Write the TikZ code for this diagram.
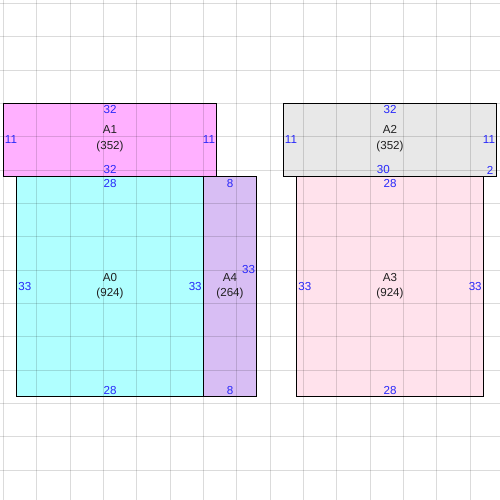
\documentclass[tikz,border=0pt]{standalone}
\usepackage{fontspec}
\setmainfont{Liberation Sans}
\definecolor{dimblue}{RGB}{40,40,250}
\definecolor{namegray}{RGB}{32,32,32}
\definecolor{pinkA}{RGB}{255,176,255}
\definecolor{cyanA}{RGB}{176,255,255}
\definecolor{lilacA}{RGB}{216,190,244}
\definecolor{grayA}{RGB}{232,232,232}
\definecolor{roseA}{RGB}{255,226,236}

\begin{document}
\begin{tikzpicture}[x=0.2cm,y=-0.2cm,
	dim/.style={text=dimblue,inner sep=1.2pt,font=\fontsize{9.9}{11}\selectfont},
	blockname/.style={text=namegray,align=center,inner sep=0pt,font=\fontsize{9.9}{13}\selectfont},
	box/.style={draw=black,line width=0.8pt}]
	\useasboundingbox (0,0) rectangle (75,75);
	\fill[white] (0,0) rectangle (75,75);
	% fills
	\fill[pinkA] (0.5,15.5) rectangle (32.5,26.5);
	\fill[cyanA] (2.5,26.5) rectangle (30.5,59.5);
	\fill[lilacA] (30.5,26.5) rectangle (38.5,59.5);
	\fill[grayA] (42.5,15.5) rectangle (74.5,26.5);
	\fill[roseA] (44.5,26.5) rectangle (72.5,59.5);
	% grid
	\foreach \k in {0,...,14} {
		\draw[black,opacity=0.14,line width=0.7pt] (0.5+5*\k,0) -- (0.5+5*\k,75);
		\draw[black,opacity=0.14,line width=0.7pt] (0,0.5+5*\k) -- (75,0.5+5*\k);
	}
	% outlines
	\draw[box] (0.5,15.5) rectangle (32.5,26.5);
	\draw[box] (2.5,26.5) rectangle (30.5,59.5);
	\draw[box] (30.5,26.5) rectangle (38.5,59.5);
	\draw[box] (42.5,15.5) rectangle (74.5,26.5);
	\draw[box] (44.5,26.5) rectangle (72.5,59.5);
	% A1
	\node[blockname] (A1) at (16.5,20.8) {A1\\(352)};
	\node[dim] (A1t) at (16.5,16.5) {32};
	\node[dim] (A1b) at (16.5,25.5) {32};
	\node[dim,anchor=west] (A1l) at (0.5,21) {11};
	\node[dim,anchor=east] (A1r) at (32.5,21) {11};
	% A0
	\node[blockname] (A0) at (16.5,42.9) {A0\\(924)};
	\node[dim] (A0t) at (16.5,27.6) {28};
	\node[dim] (A0b) at (16.5,58.6) {28};
	\node[dim,anchor=west] (A0l) at (2.5,43) {33};
	\node[dim,anchor=east] (A0r) at (30.5,43) {33};
	% A4
	\node[blockname] (A4) at (34.5,42.9) {A4\\(264)};
	\node[dim] (A4t) at (34.5,27.6) {8};
	\node[dim] (A4b) at (34.5,58.6) {8};
	\node[dim,anchor=east] (A4r) at (38.5,40.4) {33};
	% A2
	\node[blockname] (A2) at (58.5,20.8) {A2\\(352)};
	\node[dim] (A2t) at (58.5,16.5) {32};
	\node[dim] (A2b) at (57.5,25.5) {30};
	\node[dim] (A2c) at (73.5,25.5) {2};
	\node[dim,anchor=west] (A2l) at (42.5,21) {11};
	\node[dim,anchor=east] (A2r) at (74.5,21) {11};
	% A3
	\node[blockname] (A3) at (58.5,42.9) {A3\\(924)};
	\node[dim] (A3t) at (58.5,27.6) {28};
	\node[dim] (A3b) at (58.5,58.6) {28};
	\node[dim,anchor=west] (A3l) at (44.5,43) {33};
	\node[dim,anchor=east] (A3r) at (72.5,43) {33};
\end{tikzpicture}
\end{document}
